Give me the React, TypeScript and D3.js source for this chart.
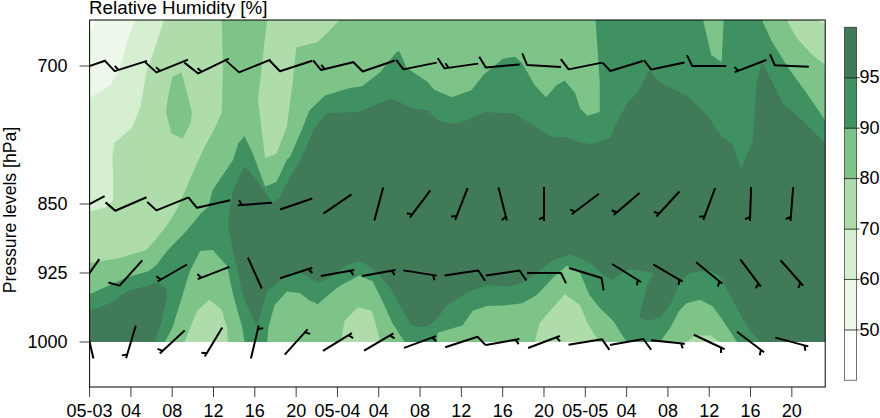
import * as d3 from 'd3';
import { useEffect, useRef } from 'react';

type Pt = [number, number];

const width = 880;
const height = 418;

// hours since 05-03 00:00 / pressure in hPa
const maxHour = 71.23;

const above50: Pt[][] = [[[0.8, 650], [maxHour, 650], [maxHour, 1000], [0, 1000], [0, 661]]];
const above60: Pt[][] = [[[4.4, 650], [maxHour, 650], [maxHour, 1000], [0, 1000], [0, 735], [1, 728], [2, 721], [2.9, 704], [3.6, 675]]];
const above70: Pt[][] = [[
  [7.2, 650], [70.4, 650], [maxHour, 654], [maxHour, 1000], [0, 1000], [0, 858], [1.5, 854], [2.3, 846], [2.3, 824],
  [2.2, 799], [2.4, 784], [4.1, 767], [4.9, 745], [5.5, 707], [6.5, 675],
]];
const above80: Pt[][] = [
  [
    [12.8, 650], [17.2, 650], [17, 668], [16.3, 737], [17, 800], [18.1, 795], [19.1, 766], [19.7, 715], [20, 680],
    [22.1, 674], [23.1, 663], [24.2, 650], [67.5, 650], [68.5, 670], [70, 688], [maxHour, 699], [maxHour, 1000],
    [0, 1000], [0, 914], [2.8, 909], [5.5, 900], [6.5, 887], [7.5, 873], [8.4, 857], [9, 842], [10, 816], [11, 791],
    [12, 770], [12.8, 751], [12.9, 701],
  ],
  [[8.9, 707], [8, 712], [7.6, 733], [7.4, 750], [7.9, 773], [9, 779], [9.8, 762], [9.9, 750], [9.5, 732]],
  // pockets under 80 at the ground
  [[9.2, 1000], [10.4, 966], [11.6, 954], [12.8, 965], [13.3, 985], [13.4, 1000]],
  [[24.3, 1000], [24.7, 977], [26, 962], [27.3, 966], [27.9, 988], [28.1, 1000]],
  [[43.1, 1000], [43.6, 979], [46, 948], [47.5, 960], [48.2, 979], [49.1, 996], [49.2, 1000]],
  [[57.8, 1000], [58.6, 993], [60.1, 993], [61, 1000]],
];
const above90: Pt[][] = [[
  [0, 948], [1, 943], [3.6, 930], [5.7, 923], [6.5, 916], [7.5, 901], [9.4, 879], [10.8, 860], [11.5, 853], [11.9, 835],
  [13.9, 802], [14.4, 784], [15, 776], [15.8, 795], [17, 831], [18.1, 826], [19.1, 802], [19.4, 799], [20.4, 773],
  [21.3, 748], [22.8, 732], [25.2, 724], [26.4, 722], [28.1, 707], [29.7, 685], [30, 684], [30.7, 702], [32.7, 717],
  [33.4, 726], [35.1, 734], [37, 726], [38.1, 710], [40, 692], [41.2, 690], [41.9, 697], [43.1, 721], [44.2, 734],
  [45.2, 721], [46, 716], [47, 729], [47.5, 746], [48.2, 754], [49.4, 750], [49.4, 718], [49, 650], [59.4, 650],
  [60.2, 688], [61.2, 696], [61.4, 650], [65.1, 650], [66, 672], [67.6, 701], [69.4, 729], [maxHour, 759],
  [maxHour, 1000], [62.7, 1000], [61.3, 976], [60.3, 961], [59.1, 954], [57.8, 958], [57.1, 966], [56.2, 985],
  [55.2, 1000], [52, 1000], [51.6, 993], [50.7, 977], [49.4, 963], [48.4, 949], [47.5, 925], [46.2, 917], [44.9, 930],
  [43.3, 949], [41.9, 958], [40.4, 960], [38.5, 961], [37.1, 966], [36.1, 982], [33.7, 990], [33.6, 1000], [30.5, 1000],
  [29.3, 979], [28.3, 954], [27.4, 934], [26.1, 928], [24.2, 939], [23, 950], [22.1, 959], [21.3, 955], [20.4, 947],
  [19.1, 945], [17.9, 960], [17.3, 985], [17.2, 1000], [15, 1000], [14.8, 985], [13.9, 949], [13.3, 917], [11.9, 900],
  [10.7, 901], [9.7, 923], [8.7, 960], [8, 985], [7.3, 1000], [0, 1000],
]];
const above95: Pt[][] = [
  [[0, 966], [2, 958], [3.6, 945], [5.5, 939], [6.5, 935], [7.4, 941], [7.5, 952], [6.8, 985], [6.3, 1000], [0, 1000]],
  [
    [16.2, 983], [14.9, 952], [13.9, 901], [13.4, 873], [13.6, 854], [13.9, 835], [15, 809], [16.2, 824], [17.7, 849],
    [18.4, 843], [19.4, 821], [20.4, 802], [21.8, 767], [23, 751], [26, 750], [29.1, 736], [30, 739], [31.2, 746],
    [32.7, 748], [33.9, 760], [35.2, 763], [36.1, 761], [38.3, 750], [41.2, 752], [42.6, 762], [44.9, 778], [46, 777],
    [47.5, 783], [48.6, 785], [50.4, 778], [51, 762], [52.1, 740], [53.1, 728], [54.2, 705], [55.2, 718], [57.9, 733],
    [59.9, 755], [61.2, 777], [62.2, 784], [63.1, 811], [64.2, 783], [64.6, 718], [65.1, 696], [66, 715], [67.1, 740],
    [69, 759], [maxHour, 784], [maxHour, 1000], [65, 1000], [63.9, 987], [63.2, 974], [62.3, 955], [61, 928], [60, 922],
    [58.1, 925], [57.1, 936], [56.2, 960], [55.2, 974], [54, 977], [53.2, 973], [54, 938], [54.6, 925], [52.3, 921],
    [51.5, 925], [50.6, 933], [49.7, 927], [48.7, 916], [47.5, 909], [46.5, 905], [44.9, 911], [43.3, 925], [41.9, 936],
    [40.4, 940], [38.5, 938], [36.8, 945], [34.6, 960], [33.7, 974], [32.9, 982], [32, 984], [31.2, 982], [30.2, 963],
    [29.1, 941], [27.4, 920], [26.2, 912], [24.9, 916], [23.5, 928], [22.1, 936], [21, 928], [20.1, 923], [19.4, 925],
    [18.4, 934], [17.2, 945],
  ],
];

const bands = [above50, above60, above70, above80, above90, above95];
const bandColors = ['#edf8ea', '#d6efd0', '#aedcaa', '#7ec488', '#3f9161', '#407a58'];

const legendLevels = [50, 60, 70, 80, 90, 95];
const legendColors = ['#ffffff', ...bandColors];

const hours = d3.range(0, 72, 4);
const hourLabels = ['05-03', '04', '08', '12', '16', '20', '05-04', '04', '08', '12', '16', '20', '05-05', '04', '08', '12', '16', '20'];
const levels = [700, 850, 925, 1000];

// wind: direction it blows from (deg), speed (m/s), half feather flag
const dir700 = [251, 252.6, 248, 244, 248, 252, 256.5, 251, 258.6, 262, 265, 273.5, 258.6, 253, 258, 270, 249, 272.3];
const speed700 = [12, 14.1, 15.3, 17.6, 16.8, 15.3, 12.3, 13.4, 11.8, 12.3, 12.6, 12.5, 13, 11.5, 12, 12.1, 0, 12.1];
const half700 = [0, 1, 1, 1, 0, 0, 1, 0, 0, 1, 0, 0, 0, 0, 0, 0, 1, 0];

const dir850 = [242, 246.7, 248, 257, 266, 251, 235.6, 195, 217, 201.5, 165.7, 180, 233, 229.4, 222.6, 200.4, 182, 184.5];
const speed850 = [12, 12.8, 12.4, 13.9, 0, 0, 0, 0, 0, 0, 0, 0, 0, 0, 0, 0, 0, 0];
const half850 = [0, 0, 0, 0, 1, 0, 0, 0, 1, 1, 1, 1, 1, 1, 1, 1, 1, 1];

const dir925 = [215, 222, 240, 248.7, 336, 72, 79.6, 79.5, 98.9, 81.7, 81.5, 90, 106.9, 122, 120.3, 129.5, 142.8, 138.5];
const speed925 = [0, 11.6, 0, 0, 0, 0, 0, 0, 0, 12.3, 12.2, 11.6, 12.6, 0, 0, 0, 0, 0];
const half925 = [0, 0, 1, 1, 0, 1, 1, 1, 1, 0, 0, 0, 0, 1, 1, 1, 1, 1];

const dir1000 = [167, 196.5, 227, 211, 13.3, 42.2, 58.6, 59.5, 69.8, 72, 79.8, 69.2, 81, 79.8, 95.6, 115.3, 127.2, 105];
const speed1000 = [0, 0, 0, 0, 0, 0, 0, 0, 0, 12, 0, 0, 12.8, 13.3, 0, 0, 0, 0];
const half1000 = [0, 1, 1, 1, 1, 1, 1, 1, 1, 0, 1, 1, 0, 0, 1, 1, 1, 1];

const winds = [
  { level: 700, dir: dir700, speed: speed700, half: half700 },
  { level: 850, dir: dir850, speed: speed850, half: half850 },
  { level: 925, dir: dir925, speed: speed925, half: half925 },
  { level: 1000, dir: dir1000, speed: speed1000, half: half1000 },
];

const font = '"Liberation Sans", Arial, sans-serif';

export default function App() {
  const svgRef = useRef<SVGSVGElement>(null);

  useEffect(() => {
    const svg = d3.select(svgRef.current);
    svg.selectAll('*').remove();

    const left = 89.6;
    const right = 825.2;
    const top = 20;
    const bottom = 387;

    const x = d3.scaleLinear().domain([0, maxHour]).range([left, right]);
    const y = d3.scaleLinear().domain([650, 1050]).range([top, top + 368]);

    svg
      .append('defs')
      .append('clipPath')
      .attr('id', 'panel')
      .append('rect')
      .attr('x', left)
      .attr('y', top)
      .attr('width', right - left)
      .attr('height', bottom - top);

    const panel = svg.append('g').attr('clip-path', 'url(#panel)');

    // Filled contours, one layer per threshold
    const ring = d3
      .line<Pt>()
      .x((d) => x(d[0]))
      .y((d) => y(d[1]));

    bands.forEach((rings, i) => {
      panel
        .append('path')
        .attr('d', rings.map((r) => `${ring(r)}Z`).join(''))
        .attr('fill', bandColors[i])
        .attr('fill-rule', 'evenodd');
    });

    // Wind barbs
    const staffLength = 34;
    const featherLength = d3.scaleLinear().domain([0, 20]).range([0, 20]);
    const barbs = panel
      .append('g')
      .attr('fill', 'none')
      .attr('stroke', '#000')
      .attr('stroke-width', 2)
      .attr('stroke-linejoin', 'round');

    winds.forEach((w) => {
      hours.forEach((h, i) => {
        const a = (w.dir[i] * Math.PI) / 180;
        const ux = Math.sin(a);
        const uy = -Math.cos(a);
        const cx = x(h);
        const cy = y(w.level);
        // outer end points to where the wind comes from
        const ox = cx + (ux * staffLength) / 2;
        const oy = cy + (uy * staffLength) / 2;
        const ix = cx - (ux * staffLength) / 2;
        const iy = cy - (uy * staffLength) / 2;
        const f = Math.atan2(iy - oy, ix - ox) - (116 * Math.PI) / 180;
        let d = `M${ix},${iy}L${ox},${oy}`;
        if (w.speed[i] > 0) {
          const len = featherLength(w.speed[i]);
          d += `L${ox + len * Math.cos(f)},${oy + len * Math.sin(f)}`;
        }
        if (w.half[i]) {
          const bx = ox - ux * 4;
          const by = oy - uy * 4;
          d += `M${bx},${by}L${bx + 5.5 * Math.cos(f)},${by + 5.5 * Math.sin(f)}`;
        }
        barbs.append('path').attr('d', d);
      });
    });

    // Frame
    svg
      .append('rect')
      .attr('x', left)
      .attr('y', top)
      .attr('width', right - left)
      .attr('height', bottom - top)
      .attr('fill', 'none')
      .attr('stroke', '#000');

    // Axes
    const xAxis = d3
      .axisBottom(x)
      .tickValues(hours)
      .tickFormat((_, i) => hourLabels[i])
      .tickSize(10)
      .tickPadding(7)
      .offset(0);
    const yAxis = d3
      .axisLeft(y)
      .tickValues(levels)
      .tickFormat((d) => `${d}`)
      .tickSize(10)
      .tickPadding(12)
      .offset(0);

    svg.append('g').attr('transform', `translate(0,${bottom})`).call(xAxis);
    svg.append('g').attr('class', 'y-axis').attr('transform', `translate(${left},0)`).call(yAxis);
    svg.selectAll('.domain').style('display', 'none');

    // Colour key, evenly spaced whatever the level step
    const keyY = d3.scaleLinear().domain([-1, 6]).range([380.3, 27.3]);
    const key = svg.append('g');
    legendColors.forEach((c, i) => {
      key
        .append('rect')
        .attr('x', 844.5)
        .attr('y', keyY(i))
        .attr('width', 12)
        .attr('height', keyY(i - 1) - keyY(i))
        .attr('fill', c)
        .attr('stroke', '#000')
        .attr('stroke-opacity', 0.55);
    });
    const keyAxis = d3
      .axisRight(d3.scaleLinear().domain([0, 5]).range([keyY(0), keyY(5)]))
      .tickValues(d3.range(6))
      .tickFormat((_, i) => `${legendLevels[i]}`)
      .tickSize(3)
      .tickPadding(0)
      .offset(0);
    svg.append('g').attr('transform', 'translate(856.5,0)').call(keyAxis);
    svg.selectAll('.domain').style('display', 'none');

    svg
      .selectAll('.tick text')
      .style('font-family', font)
      .style('font-size', '18px')
      .style('fill', '#000');
    svg.selectAll('.y-axis .tick text').attr('dy', '0.36em');
    svg.selectAll('.tick line').attr('stroke', '#000').attr('stroke-opacity', 0.75);

    // Titles
    svg
      .append('text')
      .attr('x', 89)
      .attr('y', 14)
      .style('font-family', font)
      .style('font-size', '18.8px')
      .text('Relative Humidity [%]');
    svg
      .append('text')
      .attr('transform', 'translate(15.5,210) rotate(-90)')
      .attr('text-anchor', 'middle')
      .style('font-family', font)
      .style('font-size', '17.6px')
      .text('Pressure levels [hPa]');
  }, []);

  return (
    <svg
      ref={svgRef}
      width={width}
      height={height}
      style={{ position: 'absolute', left: 0, top: 0, display: 'block', background: '#fff' }}
    />
  );
}
